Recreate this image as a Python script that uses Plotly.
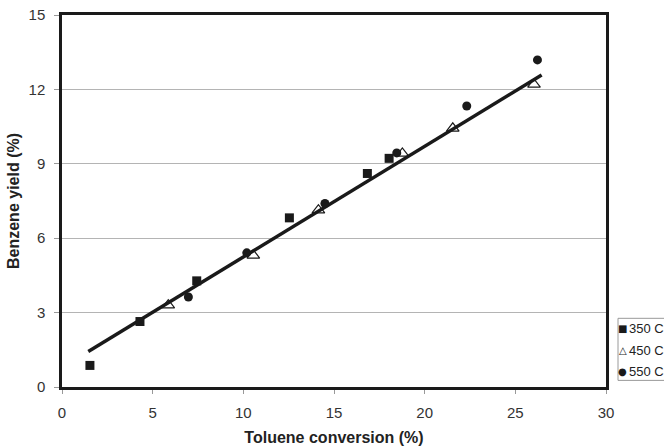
import plotly.graph_objects as go

# Toluene conversion (%) and benzene yield (%) at three temperatures
conv_350 = [1.54, 4.30, 7.43, 12.54, 16.84, 18.04]
yield_350 = [0.87, 2.64, 4.28, 6.82, 8.61, 9.22]

conv_450 = [5.86, 10.55, 14.14, 18.77, 21.55, 26.03]
yield_450 = [3.30, 5.31, 7.13, 9.42, 10.43, 12.20]

conv_550 = [6.97, 10.19, 14.50, 18.46, 22.32, 26.22]
yield_550 = [3.63, 5.41, 7.40, 9.44, 11.33, 13.19]

# Linear trend line end points
trend_x = [1.45, 26.45]
trend_y = [1.43, 12.58]

x_ticks = [0, 5, 10, 15, 20, 25, 30]
y_ticks = [0, 3, 6, 9, 12, 15]
legend_labels = ["350 C", "450 C", "550 C"]

fig = go.Figure()
fig.add_trace(go.Scatter(x=trend_x, y=trend_y, mode="lines",
                         line=dict(color="#1a1a1a", width=3.5), showlegend=False))
fig.add_trace(go.Scatter(x=conv_350, y=yield_350, mode="markers",
                         marker=dict(symbol="square", size=9, color="#1a1a1a"),
                         showlegend=False))
fig.add_trace(go.Scatter(x=conv_450, y=yield_450, mode="markers",
                         marker=dict(symbol="triangle-up-open", size=11, color="#1a1a1a",
                                     line=dict(width=1.2)),
                         showlegend=False))
fig.add_trace(go.Scatter(x=conv_550, y=yield_550, mode="markers",
                         marker=dict(symbol="circle", size=9, color="#1a1a1a"),
                         showlegend=False))

# Legend drawn as a boxed block to the right of the plot area
L, R, T, B = 62, 58, 15, 59.4
W, H = 664 - L - R, 446 - T - B
px = lambda v: (v - L) / W
py = lambda v: (446 - B - v) / H

fig.add_shape(type="rect", xref="paper", yref="paper",
              x0=px(618), x1=px(670), y0=py(380), y1=py(318),
              line=dict(color="#9a9a9a", width=1), fillcolor="white")
symbols = ["\u25A0", "\u25B3", "\u25CF"]
rows = [328.5, 350, 371]
for sym, lab, yy in zip(symbols, legend_labels, rows):
    fig.add_annotation(xref="paper", yref="paper", x=px(622.5), y=py(yy),
                       xanchor="center", yanchor="middle", showarrow=False,
                       text=sym,
                       font=dict(family="DejaVu Sans", size=10, color="#1a1a1a"))
    fig.add_annotation(xref="paper", yref="paper", x=px(626.5), y=py(yy),
                       xanchor="left", yanchor="middle", showarrow=False,
                       text=lab,
                       font=dict(family="Liberation Sans, Arial", size=13, color="#222"))

fig.update_layout(
    width=664, height=446,
    margin=dict(l=L, r=R, t=T, b=B),
    paper_bgcolor="white", plot_bgcolor="white",
    font=dict(family="Liberation Sans, Arial", size=15, color="#333"),
)
fig.update_xaxes(range=[0, 30], tickvals=x_ticks, showgrid=False, zeroline=False,
                 automargin=False,
                 showline=True, linecolor="#1a1a1a", linewidth=2.5, mirror=True,
                 ticks="outside", ticklen=4, tickcolor="#999", ticklabelstandoff=6,
                 title=dict(text="<b>Toluene conversion (%)</b>", standoff=14,
                            font=dict(size=16, color="#222")))
fig.update_yaxes(range=[0, 15], tickvals=y_ticks, showgrid=True, gridcolor="#b4b4b4",
                 gridwidth=1, zeroline=False, automargin=False,
                 showline=True, linecolor="#1a1a1a", linewidth=2.5, mirror=True,
                 ticks="outside", ticklen=5, tickcolor="#999", ticklabelstandoff=6,
                 title=dict(text="<b>Benzene yield (%)</b>", standoff=5,
                            font=dict(size=16, color="#222")))

fig.write_html("out.html")
